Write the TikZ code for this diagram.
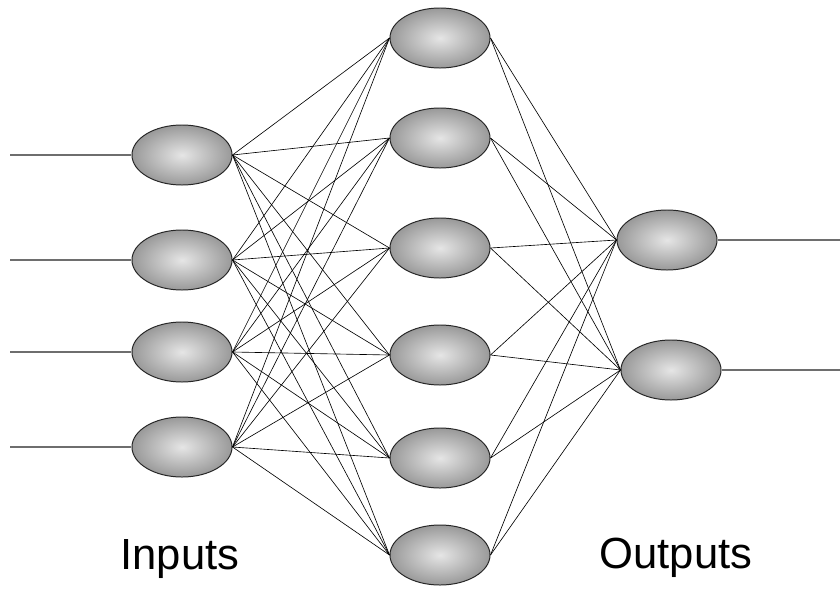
\documentclass[tikz,border=0pt]{standalone}
\usepackage{fontspec}
\setmainfont{Liberation Sans}
\usepackage{tikz}
\usetikzlibrary{shapes.geometric}
\definecolor{EdgeGray}{HTML}{6E6E6E}

\begin{document}
\begin{tikzpicture}[
    x=0.025cm, y=-0.025cm,
    neuron/.style={ellipse, draw=black!85, line width=0.7pt, inner sep=0pt, minimum width=2.5cm, minimum height=1.5cm, inner color=gray!20, outer color=gray!80},
    wire/.style={draw=black, line width=0.45pt},
    lead/.style={draw=EdgeGray, line width=1.8pt},
    caption/.style={font=\fontsize{31}{37}\selectfont, anchor=base}
]
\useasboundingbox[fill=white] (0,0) rectangle (840,592);

% input layer
\node[neuron] (in1) at (182,155) {};
\node[neuron] (in2) at (182,260) {};
\node[neuron] (in3) at (182,352) {};
\node[neuron] (in4) at (182,447) {};

% hidden layer
\node[neuron] (hid1) at (440,38) {};
\node[neuron] (hid2) at (440,138) {};
\node[neuron] (hid3) at (440,248) {};
\node[neuron] (hid4) at (440,355) {};
\node[neuron] (hid5) at (440,458) {};
\node[neuron] (hid6) at (440,555) {};

% output layer
\node[neuron] (out1) at (667,240) {};
\node[neuron] (out2) at (671,370) {};

% free ends of the leads
\coordinate (src1) at (10,155);
\coordinate (src2) at (10,260);
\coordinate (src3) at (10,352);
\coordinate (src4) at (10,447);
\coordinate (dst1) at (840,240);
\coordinate (dst2) at (840,370);

\foreach \i in {1,...,4} \draw[lead] (src\i) -- (in\i.west);
\foreach \o in {1,2} \draw[lead] (out\o.east) -- (dst\o);

% full connections
\foreach \i in {1,...,4}
  \foreach \h in {1,...,6}
    \draw[wire] (in\i.east) -- (hid\h.west);
\foreach \h in {1,...,6}
  \foreach \o in {1,2}
    \draw[wire] (hid\h.east) -- (out\o.west);

% layer names
\node[caption] (lblin) at (180,569) {Inputs};
\node[caption] (lblout) at (676,568) {Outputs};
\end{tikzpicture}
\end{document}
